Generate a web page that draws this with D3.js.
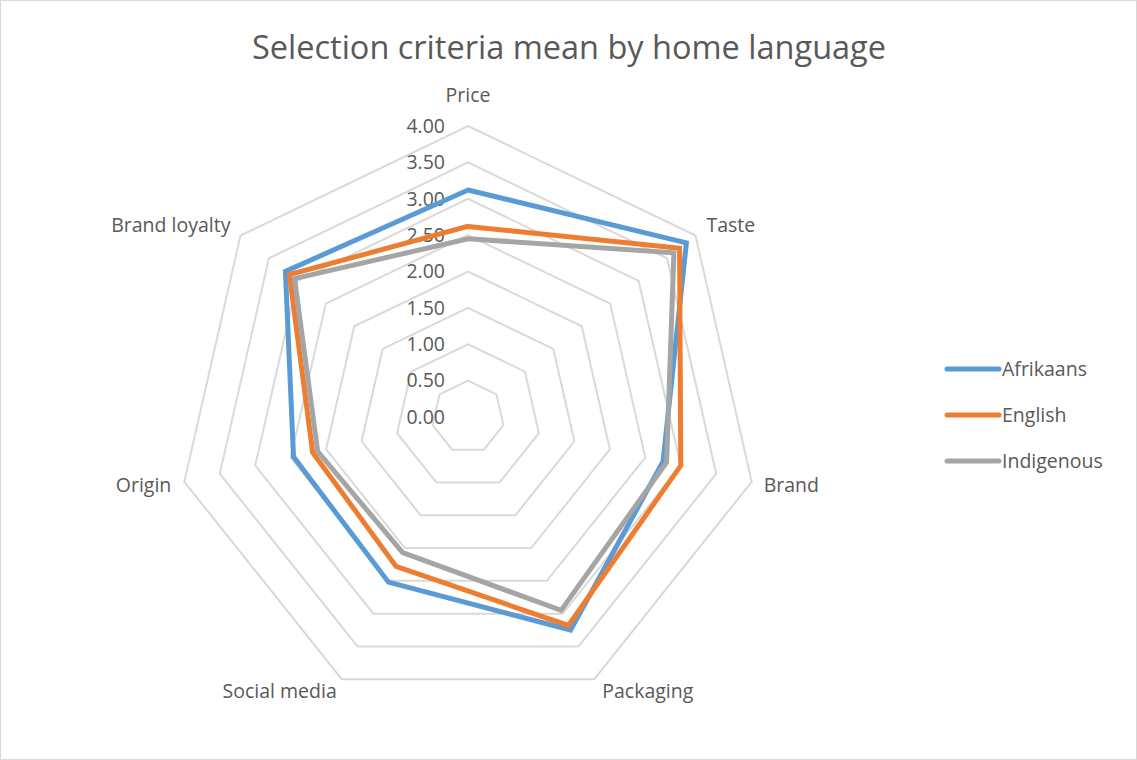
<!DOCTYPE html>
<html><head><meta charset="utf-8">
<script src="https://cdn.jsdelivr.net/npm/d3@7"></script>
<style>body{margin:0;background:#fff}svg{display:block}</style>
</head><body>
<svg id="c" width="1137" height="760"></svg>
<script>
const categories = ["Price","Taste","Brand","Packaging","Social media","Origin","Brand loyalty"];
const seriesNames = ["Afrikaans","English","Indigenous"];
const afrikaans = [3.12, 3.84, 2.75, 3.25, 2.52, 2.46, 3.21];
const english   = [2.62, 3.72, 3.00, 3.18, 2.28, 2.19, 3.14];
const indigenous= [2.45, 3.62, 2.80, 2.95, 2.07, 2.12, 3.05];
const tickValues = [0,0.5,1,1.5,2,2.5,3,3.5,4];
const colors = ["#5B9BD5","#ED7D31","#A5A5A5"];
const seriesData = [afrikaans, english, indigenous];

const FONT = "Open Sans, sans-serif";
const FS = 19.5;
const svg = d3.select("#c");
const W=1137,H=760, cx=468, cy=417, R=291;
svg.append("rect").attr("x",0.5).attr("y",0.5).attr("width",W-1).attr("height",H-1)
  .attr("fill","#fff").attr("stroke","#d9d9d9");
svg.append("text").attr("x",569).attr("y",59).attr("text-anchor","middle")
  .attr("font-family",FONT).attr("font-size",32.5).attr("fill","#595959")
  .text("Selection criteria mean by home language");

const r = d3.scaleLinear().domain([0,4]).range([0,R]);
const ang = d3.scaleLinear().domain([0,categories.length]).range([0,2*Math.PI]);
const pt = (i,v)=>[cx + r(v)*Math.sin(ang(i)), cy - r(v)*Math.cos(ang(i))];

const g = svg.append("g");
tickValues.forEach(t=>{
  if(t===0) return;
  g.append("path").attr("d", d3.line()(categories.map((c,i)=>pt(i,t))) + "Z")
   .attr("fill","none").attr("stroke","#d9d9d9").attr("stroke-width",2);
});
tickValues.forEach(t=>{
  g.append("text").attr("x",cx-23).attr("y",cy - r(t)).attr("dy","0.35em")
   .attr("text-anchor","end").attr("font-family",FONT)
   .attr("font-size",FS).attr("fill","#595959").text(t.toFixed(2));
});

const labelPos = [
  {a:"middle", dx:0, dy:-31},
  {a:"start", dx:11, dy:-10},
  {a:"start", dx:12, dy:3},
  {a:"start", dx:8, dy:12},
  {a:"end", dx:-5, dy:12},
  {a:"end", dx:-13, dy:3},
  {a:"end", dx:-10, dy:-10}
];
categories.forEach((c,i)=>{
  const [x,y]=pt(i,4);
  const lp=labelPos[i];
  g.append("text").attr("x",x+lp.dx).attr("y",y+lp.dy).attr("dy","0.35em")
   .attr("text-anchor",lp.a).attr("font-family",FONT)
   .attr("font-size",FS).attr("fill","#595959").text(c);
});

seriesData.forEach((s,k)=>{
  g.append("path").attr("d", d3.line()(s.map((v,i)=>pt(i,v))) + "Z")
   .attr("fill","none").attr("stroke",colors[k]).attr("stroke-width",5)
   .attr("stroke-linejoin","miter");
});

const leg = svg.append("g");
seriesNames.forEach((n,k)=>{
  const y = 369 + k*46;
  leg.append("line").attr("x1",947).attr("x2",999).attr("y1",y).attr("y2",y)
   .attr("stroke",colors[k]).attr("stroke-width",5).attr("stroke-linecap","round");
  leg.append("text").attr("x",1002).attr("y",y).attr("dy","0.35em")
   .attr("font-family",FONT).attr("font-size",FS).attr("fill","#595959").text(n);
});
</script>
</body></html>
